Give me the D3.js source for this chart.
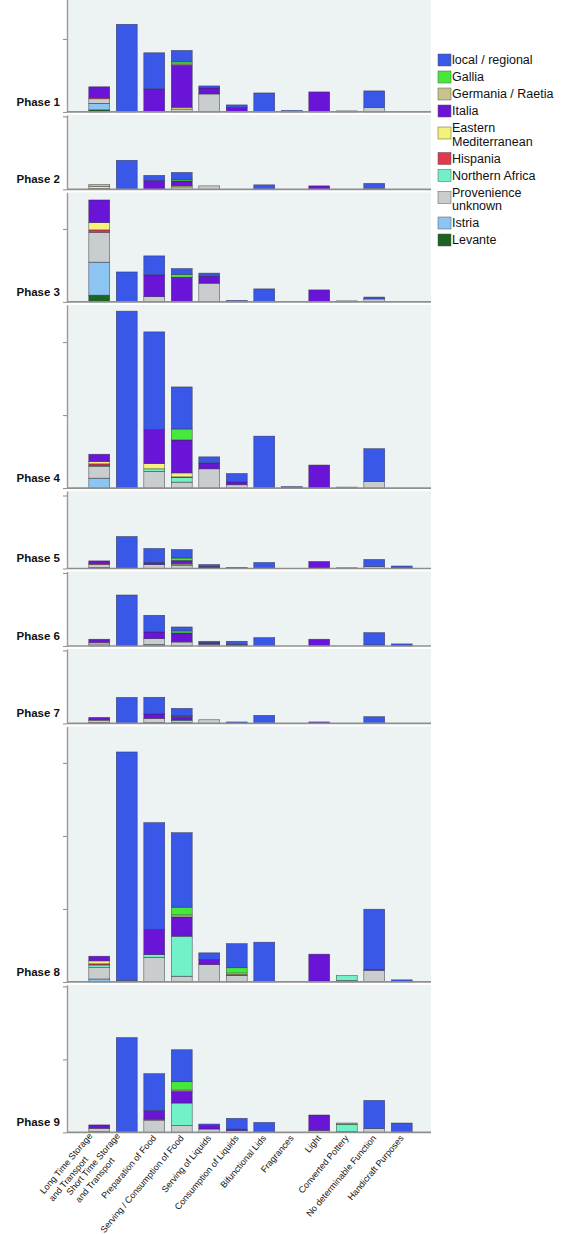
<!DOCTYPE html>
<html>
<head>
<meta charset="utf-8">
<script src="https://cdn.jsdelivr.net/npm/d3@7"></script>
<style>
body { margin: 0; background: #fff; }
svg { display: block; font-family: "Liberation Sans", Arial, sans-serif; }
</style>
</head>
<body>
<div class="content"></div>
<script>
const w = 576;
const h = 1234;

const categories = ['Long Time Storage and Transport', 'Short Time Storage and Transport', 'Preparation of Food',
	'Serving / Consumption of Food', 'Serving of Liquids', 'Consumption of Liquids', 'Bifunctional Lids',
	'Fragrances', 'Light', 'Converted Pottery', 'No determinable Function', 'Handicraft Purposes'];
const categoryLines = [['Long Time Storage', 'and Transport'], ['Short Time Storage', 'and Transport'],
	['Preparation of Food'], ['Serving / Consumption of Food'], ['Serving of Liquids'], ['Consumption of Liquids'],
	['Bifunctional Lids'], ['Fragrances'], ['Light'], ['Converted Pottery'], ['No determinable Function'],
	['Handicraft Purposes']];

const origins = ['local / regional', 'Gallia', 'Germania / Raetia', 'Italia', 'Eastern Mediterranean',
	'Hispania', 'Northern Africa', 'Provenience unknown', 'Istria', 'Levante'];
const originLines = [['local / regional'], ['Gallia'], ['Germania / Raetia'], ['Italia'], ['Eastern', 'Mediterranean'],
	['Hispania'], ['Northern Africa'], ['Provenience', 'unknown'], ['Istria'], ['Levante']];
const colors = ['#3958e8', '#46e83c', '#c6c48c', '#6a14d8', '#f4f27a', '#e2374f', '#72f0c8', '#c9cdcd', '#8cc4f2', '#1c6421'];

const phases = ['Phase 1', 'Phase 2', 'Phase 3', 'Phase 4', 'Phase 5', 'Phase 6', 'Phase 7', 'Phase 8', 'Phase 9'];
const panelMax = [77, 51, 75, 125.5, 53, 51, 51, 175, 101];
const tickStep = 50;

// one row per category, columns in the order of `origins`
const phase1 = [
	[0, 0, 0, 7.2, 0, 1, 0, 3.1, 4.5, 1.4],
	[60, 0, 0, 0, 0, 0, 0, 0, 0, 0],
	[24.7, 0, 0, 15.8, 0, 0, 0, 0, 0, 0],
	[7.8, 1.5, 0.8, 28.8, 1.2, 0, 0, 2, 0, 0],
	[1.4, 0, 0, 4.1, 0, 0, 0, 12.3, 0, 0],
	[1.7, 0, 0, 3.1, 0, 0, 0, 0, 0, 0],
	[13, 0, 0, 0, 0, 0, 0, 0, 0, 0],
	[1, 0, 0, 0, 0, 0, 0, 0, 0, 0],
	[0, 0, 0, 13.7, 0, 0, 0, 0, 0, 0],
	[0, 0, 0, 0, 0, 0, 0, 0.7, 0, 0],
	[11.3, 0, 0, 0, 0, 0, 0, 3.1, 0, 0],
	[0, 0, 0, 0, 0, 0, 0, 0, 0, 0]
];
const phase2 = [
	[0, 0, 1.4, 0, 1.2, 0, 0, 0.7, 0, 0],
	[19.9, 0, 0, 0, 0, 0, 0, 0, 0, 0],
	[3.6, 0, 0, 6, 0, 0, 0, 0, 0, 0],
	[4.8, 1, 0, 3.4, 0.7, 0, 0, 1.7, 0, 0],
	[0, 0, 0, 0, 0, 0, 0, 2.4, 0, 0],
	[0, 0, 0, 0, 0, 0, 0, 0, 0, 0],
	[3.1, 0, 0, 0, 0, 0, 0, 0, 0, 0],
	[0, 0, 0, 0, 0, 0, 0, 0, 0, 0],
	[0, 0, 0, 2.4, 0, 0, 0, 0, 0, 0],
	[0, 0, 0, 0, 0, 0, 0, 0, 0, 0],
	[3.4, 0, 0, 0, 0, 0, 0, 0.7, 0, 0],
	[0, 0, 0, 0, 0, 0, 0, 0, 0, 0]
];
const phase3 = [
	[0, 0, 0, 15.5, 5, 1.6, 0, 20.5, 22.6, 4.6],
	[20.5, 0, 0, 0, 0, 0, 0, 0, 0, 0],
	[13, 0, 0, 14.9, 0, 0, 0, 3.6, 0, 0],
	[3.9, 2, 0, 16.9, 0, 0, 0, 0, 0, 0],
	[2.1, 0, 0, 4.8, 0, 0, 0, 12.8, 0, 0],
	[1, 0, 0, 0, 0, 0, 0, 0, 0, 0],
	[8.9, 0, 0, 0, 0, 0, 0, 0, 0, 0],
	[0, 0, 0, 0, 0, 0, 0, 0, 0, 0],
	[0, 0, 0, 8.2, 0, 0, 0, 0, 0, 0],
	[0, 0, 0, 0, 0, 0, 0, 0.7, 0, 0],
	[1.3, 0, 0, 0, 0, 0, 0, 2, 0, 0],
	[0, 0, 0, 0, 0, 0, 0, 0, 0, 0]
];
const phase4 = [
	[0, 0, 0, 5, 1.6, 1.2, 0.6, 8, 6.8, 0],
	[121.2, 0, 0, 0, 0, 0, 0, 0, 0, 0],
	[66.9, 0, 0, 23.3, 3.6, 0, 1.8, 11.4, 0, 0],
	[28.8, 7.5, 0, 22.6, 2.7, 0.5, 3.1, 4.1, 0, 0],
	[4.1, 0, 0, 4.1, 0, 0, 0, 13.2, 0, 0],
	[5.7, 0, 0, 2, 0, 0, 0, 2.3, 0, 0],
	[35.6, 0, 0, 0, 0, 0, 0, 0, 0, 0],
	[1, 0, 0, 0, 0, 0, 0, 0, 0, 0],
	[0, 0, 0, 15.8, 0, 0, 0, 0, 0, 0],
	[0, 0, 0, 0, 0, 0, 0, 0.7, 0, 0],
	[22.4, 0, 0, 0, 0, 0, 0, 4.6, 0, 0],
	[0, 0, 0, 0, 0, 0, 0, 0, 0, 0]
];
const phase5 = [
	[0, 0, 0, 1.6, 0, 0.8, 0, 2.2, 0.6, 0],
	[21.9, 0, 0, 0, 0, 0, 0, 0, 0, 0],
	[9.6, 0, 0, 1.4, 0, 0, 0, 2.7, 0, 0],
	[5.8, 1.7, 0, 2.1, 0.7, 0, 0.7, 2, 0, 0],
	[1.2, 0, 0, 1, 0, 0, 0, 0.5, 0, 0],
	[0, 0, 0, 0.6, 0, 0, 0, 0, 0, 0],
	[4.1, 0, 0, 0, 0, 0, 0, 0, 0, 0],
	[0, 0, 0, 0, 0, 0, 0, 0, 0, 0],
	[0, 0, 0, 4.8, 0, 0, 0, 0, 0, 0],
	[0, 0, 0, 0, 0, 0, 0, 0.5, 0, 0],
	[4.8, 0, 0, 0, 0, 0, 0, 1.4, 0, 0],
	[1.7, 0, 0, 0, 0, 0, 0, 0, 0, 0]
];
const phase6 = [
	[0, 0, 0, 2.2, 1, 0, 0, 1.4, 0, 0],
	[34.9, 0, 0, 0, 0, 0, 0, 0, 0, 0],
	[11.4, 0, 0, 4.6, 0, 0, 0, 4, 1, 0],
	[2.7, 1.4, 0, 5.7, 0, 0, 0.5, 2.7, 0, 0],
	[1, 0, 0, 1, 0, 0, 0, 1.2, 0, 0],
	[2.2, 0, 0, 0, 0, 0, 0, 0, 0, 1],
	[5.7, 0, 0, 0, 0, 0, 0, 0, 0, 0],
	[0, 0, 0, 0, 0, 0, 0, 0, 0, 0],
	[0, 0, 0, 4.6, 0, 0, 0, 0, 0, 0],
	[0, 0, 0, 0, 0, 0, 0, 0, 0, 0],
	[8.4, 0, 0, 0, 0, 0, 0, 0.7, 0, 0],
	[1.4, 0, 0, 0, 0, 0, 0, 0, 0, 0]
];
const phase7 = [
	[0, 0, 0, 1.4, 0, 0.5, 0, 1.5, 0.7, 0],
	[17.8, 0, 0, 0, 0, 0, 0, 0, 0, 0],
	[11.4, 0, 0, 3, 0, 0, 0, 3, 0.5, 0],
	[4.9, 0.5, 0, 2.7, 0, 0, 1.5, 0.7, 0, 0],
	[0, 0, 0, 0, 0, 0, 0, 2.5, 0, 0],
	[1, 0, 0, 0, 0, 0, 0, 0, 0, 0],
	[5.5, 0, 0, 0, 0, 0, 0, 0, 0, 0],
	[0, 0, 0, 0, 0, 0, 0, 0, 0, 0],
	[0, 0, 0, 1, 0, 0, 0, 0, 0, 0],
	[0, 0, 0, 0, 0, 0, 0, 0, 0, 0],
	[4.6, 0, 0, 0, 0, 0, 0, 0, 0, 0],
	[0, 0, 0, 0, 0, 0, 0, 0, 0, 0]
];
const phase8 = [
	[0, 0, 0, 3.2, 2, 0.8, 1.8, 7.8, 1.6, 0.4],
	[156.5, 0, 0, 0, 0, 0, 0, 1, 0, 0],
	[73.1, 0, 0, 17.3, 0, 0, 1.8, 16.9, 0, 0],
	[51, 5.3, 1.4, 13.2, 0, 0, 27.4, 3.9, 0, 0],
	[4.6, 0, 0, 3.4, 0, 0, 0, 11.9, 0, 0],
	[16.5, 3.6, 0, 0, 1, 0.8, 0, 4.3, 0, 0],
	[27.2, 0, 0, 0, 0, 0, 0, 0, 0, 0],
	[0, 0, 0, 0, 0, 0, 0, 0, 0, 0],
	[0, 0, 0, 18.5, 0, 0, 0, 0.5, 0, 0],
	[0, 0, 0, 0, 0, 0, 3.3, 1, 0, 0],
	[41.3, 0, 0, 0.5, 0, 0, 0, 8, 0, 0],
	[1.4, 0, 0, 0, 0, 0, 0, 0, 0, 0]
];
const phase9 = [
	[0, 0, 0, 2.3, 0, 0, 0, 2.3, 0.5, 0],
	[64.9, 0, 0, 0, 0, 0, 0, 0, 0, 0],
	[25.3, 0, 0, 5.7, 0, 0.8, 0, 8.4, 0, 0],
	[21.9, 5.7, 0.9, 8, 0, 0, 15.5, 4.6, 0, 0],
	[1.1, 0, 0, 2.3, 0, 0, 0, 2.3, 0, 0],
	[7.4, 0, 0, 1, 0, 0, 0, 1.2, 0, 0],
	[6.8, 0, 0, 0, 0, 0, 0, 0, 0, 0],
	[0, 0, 0, 0, 0, 0, 0, 0, 0, 0],
	[0, 0, 0, 10.5, 0, 0, 0, 1.4, 0, 0],
	[0, 1, 0, 0, 0, 0, 4.9, 0.5, 0, 0],
	[19.2, 0, 0, 0, 0, 0, 0, 2.7, 0, 0],
	[6.4, 0, 0, 0, 0, 0, 0, 0, 0, 0]
];
const phaseData = [phase1, phase2, phase3, phase4, phase5, phase6, phase7, phase8, phase9];

// layout
const plotLeft = 67;
const plotRight = 431;
const pxPerUnit = 73 / tickStep;
const gap = 3;

const svg = d3.select('.content').append('svg')
	.attr('width', w)
	.attr('height', h);

const x = d3.scaleBand()
	.domain(categories)
	.range([85.5, 415.5])
	.paddingInner(0.24)
	.paddingOuter(0.12);

// Levante at the bottom, local / regional on top
const stack = d3.stack().keys(d3.range(origins.length).reverse());

let panelTop = -0.5;
let lastBase = 0;

phaseData.forEach((rows, p) => {
	const base = panelTop + panelMax[p] * pxPerUnit;
	const y = d3.scaleLinear()
		.domain([0, panelMax[p]])
		.range([base, panelTop]);

	const g = svg.append('g').attr('class', 'panel');

	g.append('rect')
		.attr('x', plotLeft)
		.attr('y', panelTop)
		.attr('width', plotRight - plotLeft)
		.attr('height', base - panelTop)
		.attr('fill', '#edf2f2');

	g.selectAll('g.series')
		.data(stack(rows))
		.join('g')
		.attr('class', 'series')
		.attr('fill', (s) => colors[s.key])
		.selectAll('rect')
		.data((s) => s.map((d, i) => ({ d: d, i: i })).filter((o) => o.d[1] - o.d[0] > 0))
		.join('rect')
		.attr('x', (o) => x(categories[o.i]))
		.attr('width', x.bandwidth())
		.attr('y', (o) => y(o.d[1]))
		.attr('height', (o) => y(o.d[0]) - y(o.d[1]))
		.attr('stroke', '#2c2c3c')
		.attr('stroke-width', 0.6)
		.attr('stroke-opacity', 0.75);

	const yAxis = d3.axisLeft(y)
		.tickValues(d3.range(0, panelMax[p] + 0.01, tickStep))
		.tickSize(4)
		.tickSizeOuter(0)
		.tickFormat('');

	const ax = g.append('g')
		.attr('transform', 'translate(' + plotLeft + ',0)')
		.call(yAxis);
	ax.select('.domain').attr('stroke', '#9a9a9a').attr('stroke-width', 1.4);
	ax.selectAll('.tick line').attr('stroke', '#8a8a8a');

	g.append('line')
		.attr('x1', plotLeft)
		.attr('x2', plotRight)
		.attr('y1', base)
		.attr('y2', base)
		.attr('stroke', '#8f8f8f')
		.attr('stroke-width', 1.6);

	g.append('text')
		.attr('x', 60)
		.attr('y', base - 6)
		.attr('text-anchor', 'end')
		.attr('font-size', 11.5)
		.attr('font-weight', 'bold')
		.attr('fill', '#111')
		.text(phases[p]);

	lastBase = base;
	panelTop = base + gap;
});

// category labels under the last panel
const labels = svg.append('g')
	.attr('font-size', 9)
	.attr('fill', '#111');

categories.forEach((c, i) => {
	const cx = x(c) + x.bandwidth() / 2;
	const t = labels.append('text')
		.attr('transform', 'translate(' + cx + ',' + (lastBase + 4) + ') rotate(-50)');
	const lines = categoryLines[i];
	if (lines.length === 1) {
		t.attr('text-anchor', 'end').attr('dy', '0.35em').text(lines[0]);
	} else {
		// wrapped labels: lines left-aligned, block ending at the bar
		const spans = lines.map((l, j) => t.append('tspan')
			.attr('dy', j === 0 ? '-0.55em' : '1.3em')
			.text(l));
		const maxW = d3.max(spans, (s) => s.node().getComputedTextLength());
		spans.forEach((s) => s.attr('x', -maxW - 4));
	}
});

// legend
const legend = svg.append('g')
	.attr('id', 'legend')
	.attr('font-size', 12.5)
	.attr('fill', '#111');

let ly = 60;
originLines.forEach((lines, i) => {
	const swatchY = lines.length > 1 ? ly + 5 : ly;
	legend.append('rect')
		.attr('x', 438)
		.attr('y', swatchY - 6)
		.attr('width', 13)
		.attr('height', 12)
		.attr('fill', colors[i])
		.attr('stroke', '#555')
		.attr('stroke-width', 0.5);
	lines.forEach((l, j) => {
		legend.append('text')
			.attr('x', 452)
			.attr('y', ly + j * 13.5)
			.attr('dy', '0.35em')
			.text(l);
	});
	ly += 17 + (lines.length - 1) * 13.5;
});
</script>
</body>
</html>
